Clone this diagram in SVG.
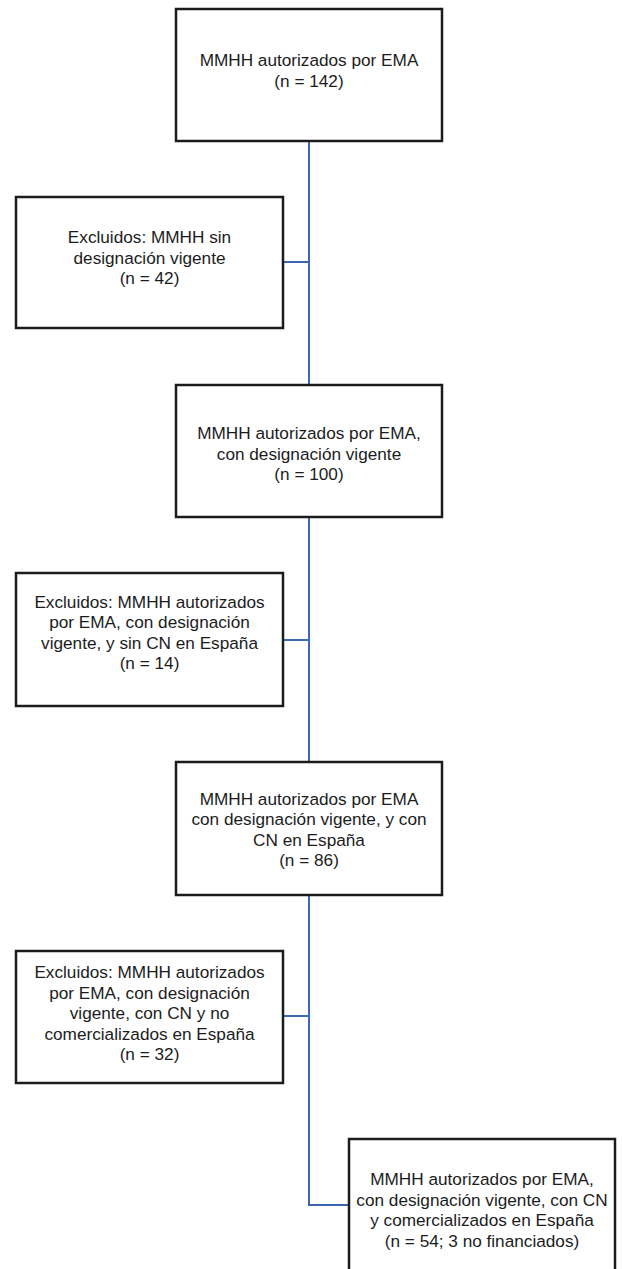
<svg xmlns="http://www.w3.org/2000/svg" width="622" height="1269" viewBox="0 0 622 1269">
<style>
.box{fill:#fff;stroke:#1c1c1c;stroke-width:2.5}
.t{font-family:"Liberation Sans",Arial,sans-serif;font-size:17.2px;fill:#1c1c1c;text-anchor:middle}
.c{fill:none;stroke:#3a68b0;stroke-width:2}
</style>
<rect width="622" height="1269" fill="#fff"/>
<g id="connectors">
<path class="c" d="M309 141V385M309 517V762M309 895V1205H349"/>
<path class="c" d="M283 262H309M283 640H309M283 1016H309"/>
</g>
<g id="n1">
<rect class="box" x="176" y="9" width="266" height="132"/>
<text class="t" x="309" y="66">MMHH autorizados por EMA</text>
<text class="t" x="309" y="86.5">(n = 142)</text>
</g>
<g id="x1">
<rect class="box" x="16" y="197" width="267" height="131"/>
<text class="t" x="149.5" y="243">Excluidos: MMHH sin</text>
<text class="t" x="149.5" y="263.5">designación vigente</text>
<text class="t" x="149.5" y="284">(n = 42)</text>
</g>
<g id="n2">
<rect class="box" x="176" y="385" width="266" height="132"/>
<text class="t" x="309" y="439">MMHH autorizados por EMA,</text>
<text class="t" x="309" y="459.5">con designación vigente</text>
<text class="t" x="309" y="480">(n = 100)</text>
</g>
<g id="x2">
<rect class="box" x="16" y="573" width="267" height="133"/>
<text class="t" x="149.5" y="607.5">Excluidos: MMHH autorizados</text>
<text class="t" x="149.5" y="628">por EMA, con designación</text>
<text class="t" x="149.5" y="648.5">vigente, y sin CN en España</text>
<text class="t" x="149.5" y="669">(n = 14)</text>
</g>
<g id="n3">
<rect class="box" x="176" y="762" width="266" height="133"/>
<text class="t" x="309" y="804.5">MMHH autorizados por EMA</text>
<text class="t" x="309" y="825">con designación vigente, y con</text>
<text class="t" x="309" y="845.5">CN en España</text>
<text class="t" x="309" y="866">(n = 86)</text>
</g>
<g id="x3">
<rect class="box" x="16" y="951" width="267" height="132"/>
<text class="t" x="149.5" y="978">Excluidos: MMHH autorizados</text>
<text class="t" x="149.5" y="998.5">por EMA, con designación</text>
<text class="t" x="149.5" y="1019">vigente, con CN y no</text>
<text class="t" x="149.5" y="1039.5">comercializados en España</text>
<text class="t" x="149.5" y="1060">(n = 32)</text>
</g>
<g id="n4">
<rect class="box" x="349" y="1139" width="266" height="136"/>
<text class="t" x="482" y="1185">MMHH autorizados por EMA,</text>
<text class="t" x="482" y="1205.5">con designación vigente, con CN</text>
<text class="t" x="482" y="1226">y comercializados en España</text>
<text class="t" x="482" y="1246.5">(n = 54; 3 no financiados)</text>
</g>
</svg>
